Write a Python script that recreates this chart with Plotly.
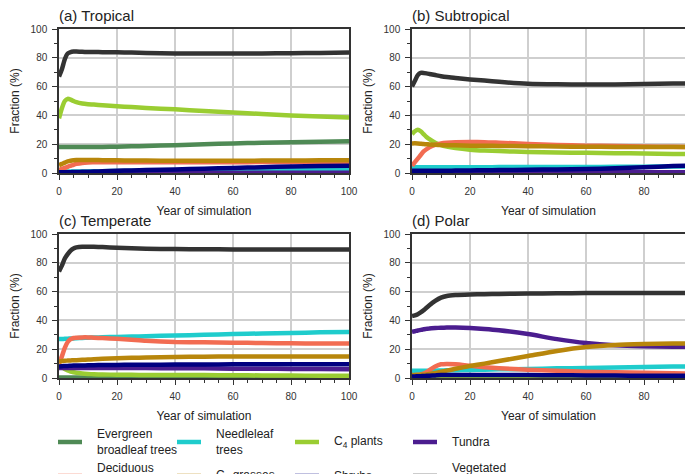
import plotly.graph_objects as go

YEARS = [0, 1, 2, 3, 4, 5, 6, 8, 10, 12, 15, 20, 25, 30, 40, 50, 60, 70, 80, 90, 100]

PANEL_TITLES = ["(a) Tropical", "(b) Subtropical", "(c) Temperate", "(d) Polar"]
X_TITLE = "Year of simulation"
Y_TITLE = "Fraction (%)"

PFT_NAMES = ["Evergreen broadleaf trees", "Needleleaf trees", "C4 plants", "Tundra",
             "Deciduous broadleaf trees", "C3 grasses", "Shrubs", "Vegetated fraction"]
LEGEND_LABELS = ["Evergreen<br>broadleaf trees", "Needleleaf<br>trees", "C<sub>4</sub> plants", "Tundra",
                 "Deciduous<br>broadleaf trees", "C<sub>3</sub> grasses", "Shrubs", "Vegetated<br>fraction"]
COLORS = ["#4f8a55", "#1fcccc", "#9acd32", "#4b1d8f",
          "#f26c52", "#b8860b", "#000080", "#333333"]

# ---- (a) Tropical ----
trop_evg = [18, 18, 18, 18, 18, 18, 18, 18, 18, 18, 18.1, 18.3, 18.5, 18.8, 19.3, 20, 20.5, 21, 21.3, 21.7, 22]
trop_ndl = [1, 1, 1, 1, 1, 1, 1, 1.1, 1.1, 1.2, 1.3, 1.4, 1.5, 1.6, 1.8, 2, 2.1, 2.2, 2.3, 2.4, 2.5]
trop_c4 = [38, 45, 50, 51.5, 51, 50, 49.2, 48.3, 47.8, 47.5, 47, 46.3, 45.8, 45.2, 44.2, 43, 42, 41, 40, 39.2, 38.5]
trop_tun = [0.2, 0.2, 0.2, 0.2, 0.2, 0.2, 0.2, 0.2, 0.2, 0.2, 0.2, 0.2, 0.2, 0.2, 0.2, 0.2, 0.2, 0.2, 0.2, 0.2, 0.2]
trop_dec = [2, 2.8, 3.5, 4.3, 5, 5.7, 6.3, 7, 7.3, 7.4, 7.5, 7.5, 7.5, 7.5, 7.5, 7.5, 7.5, 7.6, 7.7, 7.8, 7.8]
trop_c3 = [5.5, 6.3, 7.2, 8, 8.5, 8.8, 9, 9, 9, 9, 8.9, 8.8, 8.7, 8.6, 8.5, 8.5, 8.5, 8.6, 8.7, 8.8, 8.8]
trop_shr = [0.5, 0.5, 0.6, 0.6, 0.6, 0.7, 0.7, 0.8, 0.9, 1, 1.2, 1.5, 1.8, 2, 2.5, 3, 3.5, 4, 4.5, 4.8, 5]
trop_veg = [67, 72, 79, 83, 84, 84.3, 84.3, 84.2, 84, 84, 83.9, 83.8, 83.6, 83.4, 83, 83, 83, 83, 83.2, 83.4, 83.6]

# ---- (b) Subtropical ----
sub_evg = [0.2, 0.2, 0.2, 0.2, 0.2, 0.2, 0.2, 0.2, 0.2, 0.2, 0.2, 0.2, 0.2, 0.2, 0.2, 0.2, 0.2, 0.2, 0.2, 0.2, 0.2]
sub_ndl = [4, 4, 4, 4, 4, 4, 4, 4, 4, 4, 4, 4, 4, 4.1, 4.1, 4.2, 4.2, 4.3, 4.4, 4.5, 4.5]
sub_c4 = [27, 29, 30, 29, 27, 25, 23.5, 21, 19.3, 18.3, 17.3, 16.2, 15.6, 15.2, 14.6, 14.2, 14, 13.8, 13.5, 13.2, 13]
sub_tun = [0.6, 0.6, 0.6, 0.6, 0.6, 0.6, 0.6, 0.6, 0.6, 0.6, 0.6, 0.6, 0.6, 0.6, 0.6, 0.6, 0.6, 0.6, 0.6, 0.6, 0.6]
sub_dec = [5, 7.5, 10, 12.5, 15, 16.5, 17.8, 19.5, 20.5, 21, 21.4, 21.5, 21.4, 21, 20.2, 19.5, 19, 18.7, 18.4, 18.2, 18]
sub_c3 = [20.5, 20.6, 20.5, 20.3, 20.1, 20, 19.8, 19.6, 19.4, 19.3, 19.2, 19, 18.9, 18.8, 18.6, 18.4, 18.2, 18.1, 18, 18, 18]
sub_shr = [1.5, 1.5, 1.5, 1.5, 1.5, 1.5, 1.5, 1.5, 1.6, 1.6, 1.7, 1.8, 1.9, 2, 2.2, 2.5, 2.8, 3.3, 4, 4.8, 5.5]
sub_veg = [60, 64, 68, 69.5, 69.5, 69.2, 68.8, 68, 67.2, 66.6, 66, 65, 64.2, 63.3, 62, 61.6, 61.5, 61.5, 61.8, 62.1, 62.4]

# ---- (c) Temperate ----
tem_evg = [0.4, 0.4, 0.4, 0.4, 0.4, 0.4, 0.4, 0.4, 0.4, 0.4, 0.4, 0.4, 0.4, 0.4, 0.4, 0.4, 0.4, 0.4, 0.4, 0.4, 0.4]
tem_ndl = [27, 27.1, 27.2, 27.3, 27.4, 27.5, 27.6, 27.8, 28, 28.1, 28.3, 28.5, 28.8, 29, 29.5, 30, 30.5, 30.9, 31.3, 31.7, 32]
tem_c4 = [9, 7.5, 6.2, 5.2, 4.5, 4, 3.6, 3.1, 2.8, 2.6, 2.4, 2.3, 2.2, 2.1, 2, 2, 1.9, 1.8, 1.7, 1.6, 1.5]
tem_tun = [7, 7, 7, 7, 7, 7, 7, 7, 7, 7, 7, 7, 7, 6.9, 6.8, 6.7, 6.5, 6.4, 6.3, 6.2, 6]
tem_dec = [10, 15, 21, 25, 27, 27.8, 28, 28.2, 28.2, 28, 27.7, 27.2, 26.5, 25.8, 25, 24.8, 24.5, 24.3, 24.1, 24, 24]
tem_c3 = [11.5, 11.8, 12, 12.1, 12.2, 12.3, 12.4, 12.6, 12.8, 13, 13.3, 13.7, 14, 14.2, 14.6, 14.8, 15, 15, 15, 15, 14.9]
tem_shr = [8, 8.2, 8.3, 8.4, 8.5, 8.6, 8.6, 8.7, 8.8, 8.9, 9, 9.1, 9.2, 9.2, 9.3, 9.4, 9.5, 9.5, 9.5, 9.5, 9.6]
tem_veg = [74, 78, 83, 86, 88.5, 90, 90.7, 91.2, 91.2, 91.1, 90.9, 90.5, 90.1, 89.8, 89.5, 89.4, 89.3, 89.3, 89.3, 89.3, 89.3]

# ---- (d) Polar ----
pol_evg = [0.1, 0.1, 0.1, 0.1, 0.1, 0.1, 0.1, 0.1, 0.1, 0.1, 0.1, 0.1, 0.1, 0.1, 0.1, 0.1, 0.1, 0.1, 0.1, 0.1, 0.1]
pol_ndl = [5, 5, 5, 5, 5, 5, 5, 5.1, 5.2, 5.3, 5.4, 5.6, 5.8, 6, 6.3, 6.7, 7, 7.3, 7.6, 7.9, 8.2]
pol_c4 = [0.5, 0.5, 0.5, 0.5, 0.5, 0.5, 0.5, 0.5, 0.5, 0.5, 0.5, 0.5, 0.5, 0.5, 0.5, 0.5, 0.5, 0.5, 0.5, 0.5, 0.5]
pol_tun = [32, 32.5, 33, 33.4, 33.8, 34.1, 34.4, 34.7, 34.9, 35, 35, 34.7, 34.1, 33.2, 30.5, 27, 24.3, 22.7, 22, 21.7, 21.5]
pol_dec = [2, 2, 2.2, 2.5, 3, 4, 5.5, 8, 9.5, 9.8, 9.5, 8.5, 7.5, 6.8, 5.8, 5, 4.4, 4, 3.6, 3.3, 3]
pol_c3 = [2, 2, 2.1, 2.2, 2.3, 2.5, 2.8, 3.5, 4.3, 5.1, 6.4, 8.3, 10, 11.8, 15.3, 18.8, 21.5, 23, 23.6, 23.9, 24]
pol_shr = [1, 1.1, 1.2, 1.3, 1.4, 1.5, 1.6, 1.8, 2, 2, 2, 2, 2, 2, 2, 1.9, 1.8, 1.7, 1.6, 1.6, 1.5]
pol_veg = [43, 43.5, 44.3, 45.5, 47, 48.8, 50.5, 53.5, 55.8, 57, 57.6, 58, 58.2, 58.4, 58.7, 58.8, 59, 59, 59, 59, 59]

PANELS = [
    [trop_evg, trop_ndl, trop_c4, trop_tun, trop_dec, trop_c3, trop_shr, trop_veg],
    [sub_evg, sub_ndl, sub_c4, sub_tun, sub_dec, sub_c3, sub_shr, sub_veg],
    [tem_evg, tem_ndl, tem_c4, tem_tun, tem_dec, tem_c3, tem_shr, tem_veg],
    [pol_evg, pol_ndl, pol_c4, pol_tun, pol_dec, pol_c3, pol_shr, pol_veg],
]

W, H = 685, 474
FONT = "Liberation Sans, Arial, Helvetica, sans-serif"

# plot-area pixel boxes (left, right, top, bottom)
BOX = [(59, 349, 29, 173), (412, 702, 29, 173), (59, 349, 234, 378), (412, 702, 234, 378)]

fig = go.Figure()
layout = dict(width=W, height=H, margin=dict(l=0, r=0, t=0, b=0, autoexpand=False),
              paper_bgcolor="white", plot_bgcolor="white", showlegend=False,
              font=dict(family=FONT, color="#222222"))

annotations = []
for i, series in enumerate(PANELS):
    k = i + 1
    xa = "x" if k == 1 else f"x{k}"
    ya = "y" if k == 1 else f"y{k}"
    for j, vals in enumerate(series):
        fig.add_trace(go.Scatter(x=YEARS, y=vals, mode="lines", name=PFT_NAMES[j],
                                 line=dict(color=COLORS[j], width=4.5, shape="spline", smoothing=0.6),
                                 xaxis=xa, yaxis=ya, hoverinfo="skip"))
    l, r, t, b = BOX[i]
    x0, x1 = l / W, min(r, W) / W
    xmax = 100 * (min(r, W) - l) / (r - l)
    y0, y1 = 1 - b / H, 1 - t / H
    right_cut = r > W
    layout["xaxis" if k == 1 else f"xaxis{k}"] = dict(
        domain=[x0, x1], range=[0, xmax], anchor=ya, tickvals=[0, 20, 40, 60, 80, 100],
        showgrid=True, gridcolor="#cfcfcf", gridwidth=1.5, zeroline=False,
        showline=True, linecolor="#333333", linewidth=1.5, mirror=True,
        ticks="outside", ticklen=5, tickwidth=1.2, tickcolor="#333333", ticklabelstandoff=3,
        minor=dict(dtick=5, tick0=0, ticks="outside", ticklen=3, tickcolor="#333333", showgrid=False),
        tickfont=dict(size=10, color="#333333", family=FONT),
        title=dict(text=X_TITLE, font=dict(size=12, color="#222222", family=FONT), standoff=11),
    )
    layout["yaxis" if k == 1 else f"yaxis{k}"] = dict(
        domain=[y0, y1], range=[0, 100], anchor=xa, tickvals=[0, 20, 40, 60, 80, 100],
        showgrid=True, gridcolor="#cfcfcf", gridwidth=1.5, zeroline=False,
        showline=True, linecolor="#333333", linewidth=1.5, mirror=(not right_cut),
        ticks="outside", ticklen=5, tickwidth=1.2, tickcolor="#333333", ticklabelstandoff=3,
        minor=dict(dtick=10, tick0=0, ticks="outside", ticklen=3, tickcolor="#333333", showgrid=False),
        tickfont=dict(size=10, color="#333333", family=FONT),
        title=dict(text=Y_TITLE, font=dict(size=12, color="#222222", family=FONT), standoff=8),
    )
    annotations.append(dict(text=PANEL_TITLES[i], xref="paper", yref="paper",
                            x=(l - 2) / W, y=1 - (t - 3) / H, xanchor="left", yanchor="bottom",
                            showarrow=False, font=dict(size=15, color="#222222", family=FONT)))

# manual legend (the lower row is cut by the page edge, as in the source)
LEG_COL_X = [58, 177, 295, 413]
LEG_ROW_Y = [442, 476]
shapes = []
for j, lab in enumerate(LEGEND_LABELS):
    row, col = divmod(j, 4)
    xs = LEG_COL_X[col]
    yc = LEG_ROW_Y[row]
    shapes.append(dict(type="line", xref="paper", yref="paper",
                       x0=xs / W, x1=(xs + 24) / W, y0=1 - yc / H, y1=1 - yc / H,
                       line=dict(color=COLORS[j], width=4.5)))
    annotations.append(dict(text=lab, xref="paper", yref="paper", x=(xs + 37) / W, y=1 - yc / H,
                            xanchor="left", yanchor="middle", align="left", showarrow=False,
                            font=dict(size=12, color="#222222", family=FONT)))

layout["annotations"] = annotations
layout["shapes"] = shapes
fig.update_layout(**layout)
fig.write_html("out.html")
